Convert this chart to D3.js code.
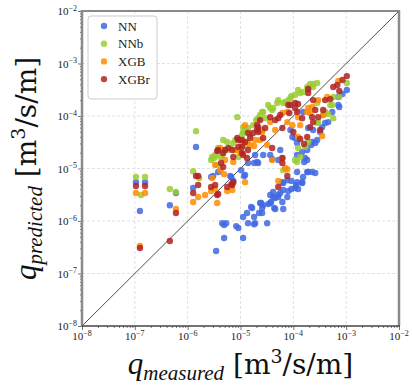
<!DOCTYPE html>
<html><head><meta charset="utf-8">
<script src="https://cdn.jsdelivr.net/npm/d3@7"></script>
<style>body{margin:0;background:#fff}</style>
</head><body>
<svg id="c" width="412" height="389"></svg>
<script>
const seriesNames = ["NN", "NNb", "XGB", "XGBr"];
const seriesColors = ["#4169e1", "#9acd32", "#ff8c00", "#b22222"];
const majorTicks = [1e-8, 1e-7, 1e-6, 1e-5, 1e-4, 1e-3, 1e-2];
const tickExponents = ["−8", "−7", "−6", "−5", "−4", "−3", "−2"];

const NN = [
[1.05e-7,5.5e-6],[1.56e-7,5.5e-6],[1.25e-7,1.55e-6],[4.6e-7,2.0e-6],[6.0e-7,3.4e-6],[1.27e-6,4.24e-6],[1.44e-6,2.56e-5],
[2.78e-6,6.9e-6],[3.03e-6,7.2e-6],[3.78e-6,8.55e-6],[3.46e-6,2.68e-7],[4.5e-6,9.1e-7],[4.9e-6,8.35e-7],[5.35e-6,9.1e-7],[8.3e-6,8.0e-7],[9.1e-6,7.35e-7],[4.9e-6,4.74e-7],[1.12e-5,4.74e-7],[1.12e-5,1.19e-6],[1.33e-5,1.42e-6],[1.39e-5,9.1e-7],[1.59e-5,1.85e-6],[1.81e-5,1.19e-6],[2.25e-5,1.42e-6],[1.81e-5,8.7e-7],[6.7e-6,6.9e-6],[1.03e-5,9.3e-6],[1.17e-5,7.2e-6],[1.81e-5,1.27e-5],[2.06e-5,1.33e-5],[7.3e-6,5.8e-6],[6.4e-6,7.2e-6],
[2.46e-5,2.2e-6],[2.57e-5,1.77e-6],[3.34e-5,2.1e-6],[3.8e-5,2.3e-6],[4.35e-5,1.77e-6],[4.54e-5,2.74e-6],[5.18e-5,3.12e-6],[6.45e-5,3.89e-6],[6.45e-5,1.69e-6],[8.05e-5,3.72e-6],[9.2e-5,4.06e-6],[1.13e-4,4.84e-6],[1.23e-4,4.06e-6],[1.47e-4,5.5e-6],[1.53e-4,6.9e-6],[1.91e-4,8.55e-6],[2.27e-4,8.55e-6],[2.6e-4,8.2e-6],[4.15e-5,3.56e-6],[6.2e-5,5.5e-6],[7.7e-5,6.0e-6],[9.2e-5,5.8e-6],[1.18e-4,8.55e-6],[3.2e-5,9.1e-7],[1.89e-5,9.1e-7],[2.16e-5,1.27e-5],[3.98e-5,1.52e-5],[5.18e-5,1.45e-5],[1.18e-4,1.81e-5],[1.47e-4,2.06e-5],[1.6e-4,1.33e-5],[1.83e-4,1.45e-5],[2.6e-4,3.05e-5],[2.83e-4,3.48e-5],[2.17e-4,2.8e-5],
[1.03e-3,3.12e-4],[8.5e-4,2.62e-4],[7.1e-4,1.62e-4],[7.4e-4,1.48e-4],[5.45e-4,1.19e-4],[4.57e-4,7.65e-5],[4.0e-4,7.35e-5],[3.52e-4,6.15e-5],[3.22e-4,4.95e-5],[2.27e-4,3.19e-5],[1.83e-4,2.25e-5],[1.67e-4,1.58e-5],[1.18e-4,3.05e-5],[9.6e-5,3.97e-5],[5.65e-5,2.25e-5],[3.65e-5,1.81e-5],[2.69e-5,1.81e-5],[1.89e-5,1.81e-5],[1.39e-5,1.27e-5],[1.22e-5,7.5e-6],[1.18e-4,5.5e-6],[1.47e-4,5.3e-6],[1.08e-4,4.24e-6],[1.83e-4,8.55e-6],[6.45e-5,5.3e-6],[7.7e-5,2.86e-6],[4.15e-5,2.86e-6],[3.65e-5,2.2e-6],[2.69e-5,2.01e-6],[2.35e-5,2.2e-6],[1.66e-5,1.77e-6],[2.57e-5,1.42e-6],[4.54e-5,1.69e-6],[6.2e-5,2.3e-6],[3.65e-5,3.12e-6],[5.65e-5,3.41e-6],[5.18e-5,2.86e-6],[1.53e-4,1.19e-4],[1.91e-4,5.9e-5],[2.37e-4,5.4e-5],[1.08e-4,3.8e-5],[8.8e-5,5.4e-5],[7.1e-4,2.3e-4]
];

const NNb = [
[1.05e-7,6.9e-6],[1.56e-7,6.9e-6],[1.31e-7,3.12e-6],[4.6e-7,4.06e-6],[6.0e-7,3.56e-6],[1.27e-6,8.9e-6],[1.44e-6,5.15e-5],[1.65e-6,6.6e-6],
[2.78e-6,1.45e-5],[3.17e-6,1.58e-5],[3.62e-6,1.17e-5],[4.13e-6,1.66e-5],[5.1e-6,2.25e-5],[8.7e-6,9.5e-5],[1.12e-5,6.15e-5],[1.39e-5,5.9e-5],[1.12e-5,4.95e-5],[7.3e-6,3.05e-5],[1.0e-5,3.48e-5],[2.06e-5,8.35e-5],[2.57e-5,1.19e-4],[3.98e-5,1.3e-4],[4.15e-5,1.42e-4],[6.45e-5,1.77e-4],[7.05e-5,1.85e-4],[1.08e-4,2.51e-4],[1.35e-4,2.74e-4],[1.23e-4,3.12e-4],[1.91e-4,3.26e-4],[2.08e-4,4.06e-4],[2.37e-4,4.06e-4],[2.37e-4,3.56e-4],[1.83e-4,3.56e-4],[9.2e-5,2.4e-4],[4.96e-5,1.77e-4],[3.65e-5,1.42e-4],[2.69e-5,1.19e-4],[2.16e-5,9.1e-5],[2.93e-5,9.1e-5],[2.83e-4,1.77e-4],
[1.23e-4,2.45e-5],[1.08e-4,1.45e-5],[6.45e-5,9.3e-6],[1.67e-4,2.56e-5],[5.0e-4,1.62e-4],[5.7e-4,2.3e-4],[1.03e-3,4.24e-4],[1.91e-4,3.19e-5],[2.95e-4,7.65e-5],[3.67e-4,1.045e-4],[5.7e-4,9.1e-5],[7.4e-4,2.3e-4],[5.45e-4,1.62e-4],[4.0e-4,1.19e-4],[4.57e-4,1.09e-4],[2.83e-4,7.35e-5],[2.83e-4,4.24e-4],[1.18e-4,1.33e-5],[1.35e-4,1.66e-5],
[1.52e-5,4.33e-5],[1.22e-5,2.8e-5],[5.85e-6,2.25e-5],[4.5e-6,1.81e-5],[6.4e-6,2.45e-5],[8.0e-6,3.48e-5],[1.73e-5,6.7e-5],[2.35e-5,1.045e-4],[3.34e-5,1.62e-4],[5.18e-5,2.01e-4],[8.8e-5,2.2e-4],[1.53e-4,2.86e-4],[8.05e-5,2.01e-4],
[1.22e-5,5.4e-5],[1.07e-5,4.33e-5],[4.7e-6,3.48e-5],[5.6e-6,3.19e-5],[3.78e-6,2.45e-5],[2.9e-6,1.66e-5],[3.31e-6,1.81e-5],[1.98e-5,8.35e-5],[9.1e-6,1.66e-5]
];

const XGB = [
[1.05e-7,3.41e-6],[1.56e-7,3.41e-6],[1.25e-7,3.34e-7],[6.0e-7,1.69e-6],[1.27e-6,2.3e-6],[1.58e-6,2.86e-6],[2.78e-6,3.72e-6],[3.31e-6,4.06e-6],[3.62e-6,2.2e-6],[5.6e-6,3.72e-6],[7.0e-6,3.89e-6],[4.9e-6,7.8e-6],[1.22e-5,5.5e-6],
[5.18e-5,5.8e-6],[7.7e-5,9.7e-6],[3.98e-5,1.45e-5],[3.2e-5,2.8e-5],[2.57e-5,5.4e-5],[7.7e-5,7.65e-5],[6.2e-5,1.14e-4],[9.6e-5,6.7e-5],[1.23e-4,3.97e-5],[1.91e-4,1.42e-4],[7.1e-4,4.63e-4],[3.67e-4,1.045e-4],[3.52e-4,4.15e-5],[4.37e-4,2.3e-4],[2.27e-4,1.48e-4],[1.83e-4,1.19e-4],[7.7e-5,1.19e-4],[3.65e-5,7.65e-5],[1.23e-4,9.5e-5],[2.08e-4,1.14e-4],[2.57e-5,4.95e-5],[1.0e-5,1.97e-5],[7.05e-5,1.02e-5],[6.2e-5,1.58e-5],[7.3e-6,1.33e-5],
[5.1e-6,1.45e-5],[3.31e-6,1.17e-5],[4.13e-6,9.3e-6],[1.52e-5,2.8e-5],[1.89e-5,3.48e-5],[4.54e-5,5.4e-5],[1.22e-5,6.7e-5],[8.0e-6,2.25e-5],[2.35e-5,3.48e-5],[1.35e-4,6.7e-5],[2.95e-4,2.01e-4],[2.9e-6,6.6e-6],[2.14e-6,3.12e-6],[4.13e-6,2.45e-5],[1.07e-5,2.8e-5],[1.33e-5,3.19e-5],[8.7e-6,2.25e-5],[1.81e-5,2.68e-5]
];

const XGBr = [
[1.05e-7,4.63e-6],[1.56e-7,4.63e-6],[1.25e-7,3.05e-7],[4.6e-7,4.15e-7],[6.0e-7,1.42e-6],[1.44e-6,7.2e-6],[1.58e-6,4.84e-6],[1.27e-6,3.41e-6],[3.62e-6,2.15e-5],[4.7e-6,1.97e-5],[2.78e-6,4.43e-6],[3.31e-6,4.84e-6],[3.62e-6,3.12e-6],[5.6e-6,4.43e-6],[7.3e-6,5.5e-6],[1.58e-6,7.2e-6],[3.78e-6,3.26e-6],[6.7e-6,5.05e-6],[4.3e-6,1.27e-5],[4.7e-6,1.07e-5],[1.33e-5,1.58e-5],[1.07e-5,1.97e-5],
[5.18e-5,4.43e-6],[7.7e-5,7.2e-6],[1.6e-4,2.92e-5],[3.98e-5,2.45e-5],[6.2e-5,1.58e-5],[6.2e-5,1.27e-5],[1.91e-4,3.26e-4],[8.8e-5,1.62e-4],[1.08e-4,1.77e-4],[5.65e-5,1.045e-4],[3.65e-5,9.5e-5],[2.35e-5,8.35e-5],[2.06e-5,6.7e-5],[5.18e-5,9.1e-5],[1.18e-4,1.19e-4],[1.47e-4,9.1e-5],[2.27e-4,9.5e-5],[2.37e-4,7.65e-5],[4.0e-4,2.01e-4],[5.7e-4,3.56e-4],[6.8e-4,3.89e-4],[8.5e-4,4.84e-4],[1.03e-3,5.76e-4],
[8.7e-6,3.8e-5],[1.07e-5,3.48e-5],[1.52e-5,3.8e-5],[2.16e-5,4.95e-5],[2.69e-5,3.8e-5],[1.07e-5,2.56e-5],[1.39e-5,2.25e-5],[7.3e-6,1.66e-5],[1.12e-5,1.81e-5],[7.0e-6,4.84e-6],[1.35e-4,3.64e-5],[1.83e-4,3.97e-5],[2.08e-4,6.15e-5],[3.22e-4,5.4e-5],[1.91e-4,2.74e-4],[8.05e-5,1.62e-4],[1.23e-4,1.69e-4],[1.08e-4,1.42e-4],[2.16e-5,6.15e-5],[4.54e-5,8.35e-5],[8.4e-5,1.14e-4],[1.0e-4,4.95e-5],[6.2e-5,5.9e-5],[2.6e-4,1.3e-4],[2.37e-4,2.01e-4],[5.0e-4,2.1e-4],[3.67e-4,1.3e-4],[2.95e-4,9.5e-5],[7.4e-4,2.99e-4],
[9.1e-6,3.48e-5],[1.22e-5,3.19e-5],[1.39e-5,4.74e-5],[2.06e-5,5.4e-5],[3.78e-6,2.25e-5],[5.1e-6,2.25e-5],[5.85e-6,2.45e-5],[7.0e-6,2.25e-5],[9.1e-6,2.56e-5],[1.73e-5,4.74e-5],[2.93e-5,5.9e-5]
];

const allSeries = [NN, NNb, XGB, XGBr];

const svg = d3.select("#c");
const L = 82, R = 399, T = 11, B = 326;
const x = d3.scaleLog().domain([1e-8, 1e-2]).range([L, R]);
const y = d3.scaleLog().domain([1e-8, 1e-2]).range([B, T]);
const serif = "'Liberation Serif', 'DejaVu Serif', serif";
const wideSerif = "'DejaVu Serif', 'Liberation Serif', serif";

// grid
const inner = majorTicks.slice(1, -1);
svg.append("g").selectAll("line").data(inner).join("line")
  .attr("x1", d => x(d)).attr("x2", d => x(d)).attr("y1", T).attr("y2", B)
  .attr("stroke", "#d9d9d9").attr("stroke-width", 0.8).attr("stroke-dasharray", "3,2");
svg.append("g").selectAll("line").data(inner).join("line")
  .attr("y1", d => y(d)).attr("y2", d => y(d)).attr("x1", L).attr("x2", R)
  .attr("stroke", "#d9d9d9").attr("stroke-width", 0.8).attr("stroke-dasharray", "3,2");

// diagonal 1:1
svg.append("line")
  .attr("x1", x(1e-8)).attr("y1", y(1e-8)).attr("x2", x(1e-2)).attr("y2", y(1e-2))
  .attr("stroke", "#222").attr("stroke-width", 0.8);

// points
allSeries.forEach((s, i) => {
  svg.append("g").selectAll("circle").data(s).join("circle")
    .attr("cx", d => x(d[0])).attr("cy", d => y(d[1])).attr("r", 3.2)
    .attr("fill", seriesColors[i]).attr("fill-opacity", 0.85);
});

// minor ticks
const minor = [];
majorTicks.slice(0, -1).forEach(d => { for (let k = 2; k <= 9; k++) minor.push(d * k); });

const gx = svg.append("g").attr("transform", `translate(0,${B})`);
gx.call(d3.axisBottom(x).tickValues(majorTicks).tickSize(4).tickFormat(() => ""));
const gxm = svg.append("g").attr("transform", `translate(0,${B})`);
gxm.call(d3.axisBottom(x).tickValues(minor).tickSize(2).tickFormat(() => ""));
const gy = svg.append("g").attr("transform", `translate(${L},0)`);
gy.call(d3.axisLeft(y).tickValues(majorTicks).tickSize(4).tickFormat(() => ""));
const gym = svg.append("g").attr("transform", `translate(${L},0)`);
gym.call(d3.axisLeft(y).tickValues(minor).tickSize(2).tickFormat(() => ""));
[gx, gxm, gy, gym].forEach(g => {
  g.select(".domain").remove();
  g.selectAll(".tick line").attr("stroke", "#555").attr("stroke-width", 0.8);
});

// tick labels
majorTicks.forEach((d, i) => {
  const t = svg.append("text").attr("x", x(d)).attr("y", B + 14)
    .attr("text-anchor", "middle").attr("font-family", serif).attr("font-size", 11).attr("fill", "#222");
  t.append("tspan").text("10");
  t.append("tspan").attr("font-size", 8).attr("dy", -4.5).text(tickExponents[i]);
  const u = svg.append("text").attr("x", L - 5).attr("y", y(d) + 4)
    .attr("text-anchor", "end").attr("font-family", serif).attr("font-size", 11).attr("fill", "#222");
  u.append("tspan").text("10");
  u.append("tspan").attr("font-size", 8).attr("dy", -4.5).text(tickExponents[i]);
});

// spines
svg.append("line").attr("x1", L).attr("x2", R).attr("y1", T).attr("y2", T).attr("stroke", "#8a8a8a").attr("stroke-width", 2);
svg.append("line").attr("x1", R).attr("x2", R).attr("y1", T - 1).attr("y2", B).attr("stroke", "#8a8a8a").attr("stroke-width", 2.5);
svg.append("line").attr("x1", L).attr("x2", L).attr("y1", T - 1).attr("y2", B).attr("stroke", "#8a8a8a").attr("stroke-width", 2.5);
svg.append("line").attr("x1", L).attr("x2", R + 1).attr("y1", B).attr("y2", B).attr("stroke", "#444").attr("stroke-width", 1.4);

// legend
const lg = svg.append("g");
lg.append("rect").attr("x", 88).attr("y", 16).attr("width", 69).attr("height", 83).attr("rx", 3)
  .attr("fill", "#fff").attr("fill-opacity", 0.85).attr("stroke", "#cccccc").attr("stroke-width", 1);
seriesNames.forEach((n, i) => {
  const yy = 26 + i * 17.7;
  lg.append("circle").attr("cx", 104).attr("cy", yy).attr("r", 3.2).attr("fill", seriesColors[i]).attr("fill-opacity", 0.85);
  lg.append("text").attr("x", 118).attr("y", yy + 4.5).attr("font-family", serif).attr("font-size", 13)
    .attr("fill", "#222").text(n);
});

// axis titles
function title(sel, sub) {
  sel.append("tspan").attr("font-family", serif).attr("font-style", "italic").attr("font-size", 31).text("q");
  sel.append("tspan").attr("font-family", serif).attr("font-style", "italic").attr("font-size", 21).attr("dy", 6).text(sub);
  sel.append("tspan").attr("font-family", wideSerif).attr("font-size", 28).attr("dy", -6).text(" [m");
  sel.append("tspan").attr("font-family", wideSerif).attr("font-size", 19).attr("dy", -11).text("3");
  sel.append("tspan").attr("font-family", wideSerif).attr("font-size", 28).attr("dy", 11).text("/s/m]");
}
const xt = svg.append("text").attr("x", (L + R) / 2).attr("y", 374).attr("text-anchor", "middle").attr("fill", "#111");
title(xt, "measured");
const yt = svg.append("text").attr("transform", `translate(36,${(T + B) / 2}) rotate(-90)`).attr("text-anchor", "middle").attr("fill", "#111");
title(yt, "predicted");
</script>
</body></html>
